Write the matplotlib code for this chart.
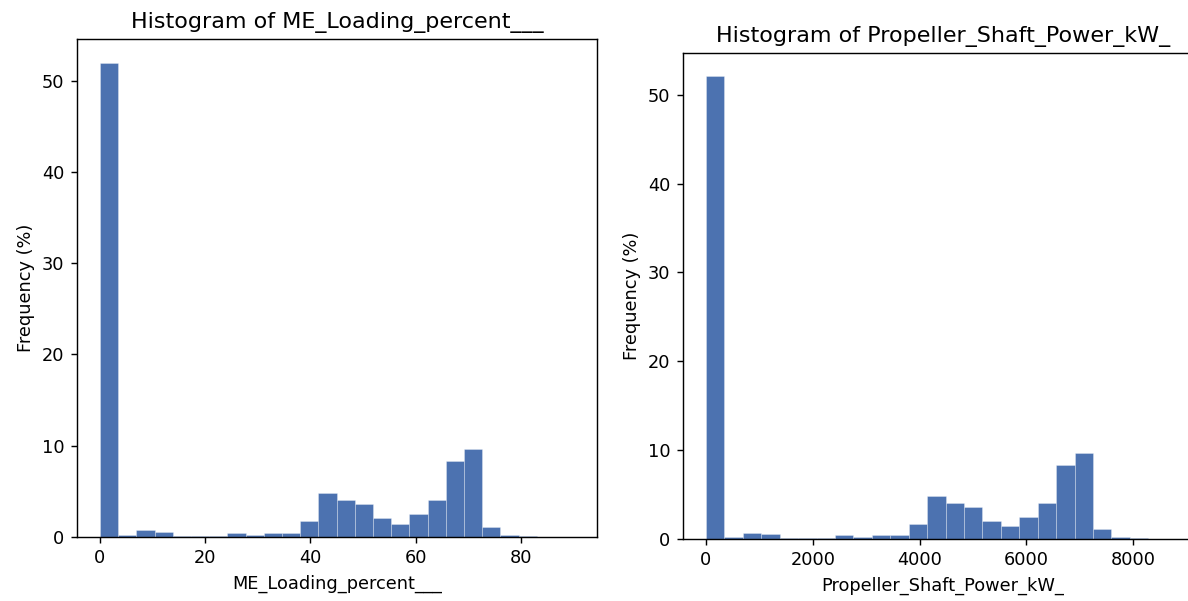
import numpy as np
import matplotlib
matplotlib.use("Agg")
import matplotlib.pyplot as plt

# Histogram frequencies (% of records per bin)
me_loading_freq = [51.95, 0.25, 0.73, 0.55, 0.10, 0.10, 0.10, 0.40, 0.25, 0.40,
                   0.40, 1.71, 4.80, 4.07, 3.64, 2.04, 1.45, 2.47, 4.07, 8.29,
                   9.60, 1.13, 0.25, 0.10, 0.005, 0.005]
me_loading_range = (0.0, 90.0)

shaft_power_freq = [52.13, 0.26, 0.67, 0.52, 0.15, 0.15, 0.15, 0.41, 0.26, 0.41,
                    0.41, 1.72, 4.79, 4.04, 3.60, 2.02, 1.42, 2.47, 4.04, 8.31,
                    9.66, 1.16, 0.26, 0.11, 0.005, 0.005]
shaft_power_range = (0.0, 8970.0)

columns = ["ME_Loading_percent___", "Propeller_Shaft_Power_kW_"]
bar_color = "#4c72b0"

DPI = 128
fig = plt.figure(figsize=(1188 / DPI, 601 / DPI), dpi=DPI)

ax1 = fig.add_axes([76.7 / 1188, (601 - 537) / 601, 520.6 / 1188, 498 / 601])
ax2 = fig.add_axes([682.7 / 1188, (601 - 539) / 601, 520.3 / 1188, 486.3 / 601])


def draw_hist(ax, freq, value_range, name):
    edges = np.linspace(value_range[0], value_range[1], len(freq) + 1)
    ax.hist(edges[:-1], bins=edges, weights=freq, color=bar_color,
            edgecolor=(1, 1, 1, 0.45), linewidth=0.35)
    ax.set_title(f"Histogram of {name}", fontsize=12.5)
    ax.set_xlabel(name, fontsize=10)
    ax.set_ylabel("Frequency (%)", fontsize=10)
    ax.tick_params(labelsize=10)


draw_hist(ax1, me_loading_freq, me_loading_range, columns[0])
draw_hist(ax2, shaft_power_freq, shaft_power_range, columns[1])

ax1.set_xlim(-4.43, 94.56)
ax2.set_xlim(-436, 9305)

fig.savefig("out.png", dpi=DPI)
